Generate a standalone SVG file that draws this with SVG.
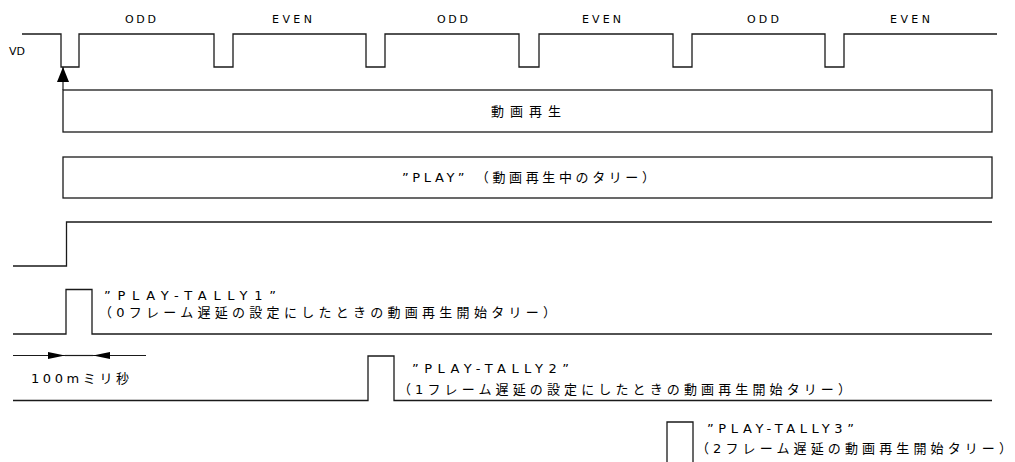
<svg xmlns="http://www.w3.org/2000/svg" width="1015" height="462" viewBox="0 0 1015 462">
<style>
.sig{fill:none;stroke:#1a1a1a;stroke-width:1.3}
.box{fill:#fff;stroke:#1a1a1a;stroke-width:1.3}
.lat{font-family:"DejaVu Sans","Liberation Sans",sans-serif;font-size:11px;fill:#000}
.jp{font-family:"DejaVu Sans","Noto Sans CJK JP",sans-serif;font-size:13px;fill:#000}
.jl{font-family:"DejaVu Sans","Noto Sans CJK JP",sans-serif;font-size:13px;fill:#000}
.conn{fill:none;stroke:#1a1a1a;stroke-width:1.2}
</style>
<defs>
<marker id="arrVD" markerUnits="userSpaceOnUse" viewBox="0 0 15 12" refX="15" refY="6" markerWidth="15" markerHeight="12" orient="auto">
<path d="M0,0 L15,6 L0,12 z" fill="#000"/>
</marker>
<marker id="arrS" markerUnits="userSpaceOnUse" viewBox="0 0 17 7" refX="17" refY="3.5" markerWidth="17" markerHeight="7" orient="auto">
<path d="M0,0 L17,3.5 L0,7 z" fill="#000"/>
</marker>
</defs>
<rect width="1015" height="462" fill="#fff"/>

<g id="vd">
<path class="sig" d="M22,34 H61 V67 H79 V34 H214 V67 H233 V34 H366 V67 H385 V34 H519 V67 H539 V34 H673 V67 H692 V34 H825 V67 H844 V34 H997"/>
<text class="lat" x="9" y="55">VD</text>
<text class="lat" x="125" y="23" textLength="31" lengthAdjust="spacing">ODD</text>
<text class="lat" x="272" y="23" textLength="40" lengthAdjust="spacing">EVEN</text>
<text class="lat" x="437" y="23" textLength="31" lengthAdjust="spacing">ODD</text>
<text class="lat" x="582" y="23" textLength="39" lengthAdjust="spacing">EVEN</text>
<text class="lat" x="747" y="23" textLength="32" lengthAdjust="spacing">ODD</text>
<text class="lat" x="890" y="23" textLength="40" lengthAdjust="spacing">EVEN</text>
</g>

<g id="play-video">
<rect class="box" x="63" y="90" width="929" height="42"/>
<text class="jp" x="491" y="116" font-size="13.5" textLength="70" lengthAdjust="spacing">動画再生</text>
</g>

<g id="play-tally">
<rect class="box" x="63" y="157" width="929" height="41"/>
<text class="jp" x="402" y="182" font-size="13" textLength="253" lengthAdjust="spacing">”PLAY” （動画再生中のタリー）</text>
</g>

<g id="play-level">
<path class="sig" d="M13,266 H66.5 V222 H992"/>
</g>

<g id="tally1">
<path class="sig" d="M13,334 H66 V289.5 H92 V334 H992"/>
<text class="jl" x="104" y="300" textLength="172" lengthAdjust="spacing">”PLAY-TALLY1”</text>
<text class="jp" x="99" y="317" textLength="457" lengthAdjust="spacing">（0フレーム遅延の設定にしたときの動画再生開始タリー）</text>
</g>

<g id="tally2">
<path class="sig" d="M13,400.5 H368 V356 H394 V400.5 H992"/>
<text class="jl" x="412" y="373" textLength="157" lengthAdjust="spacing">”PLAY-TALLY2”</text>
<text class="jp" x="398" y="394" textLength="453" lengthAdjust="spacing">（1フレーム遅延の設定にしたときの動画再生開始タリー）</text>
</g>

<g id="tally3">
<path class="sig" d="M667,470 V422 H693 V470"/>
<text class="jl" x="707" y="433" textLength="147" lengthAdjust="spacing">”PLAY-TALLY3”</text>
<text class="jp" x="696" y="453" textLength="316" lengthAdjust="spacing">（2フレーム遅延の動画再生開始タリー）</text>
</g>

<g id="width-label">
<text class="jp" x="31" y="383" font-size="15" textLength="98" lengthAdjust="spacing">100mミリ秒</text>
</g>

<g id="connectors">
<path class="conn" d="M63,90 V67" marker-end="url(#arrVD)"/>
<path class="conn" d="M13,355.5 H65" marker-end="url(#arrS)"/>
<path class="conn" d="M65,355.5 H93"/>
<path class="conn" d="M146,355.5 H93" marker-end="url(#arrS)"/>
</g>
</svg>
